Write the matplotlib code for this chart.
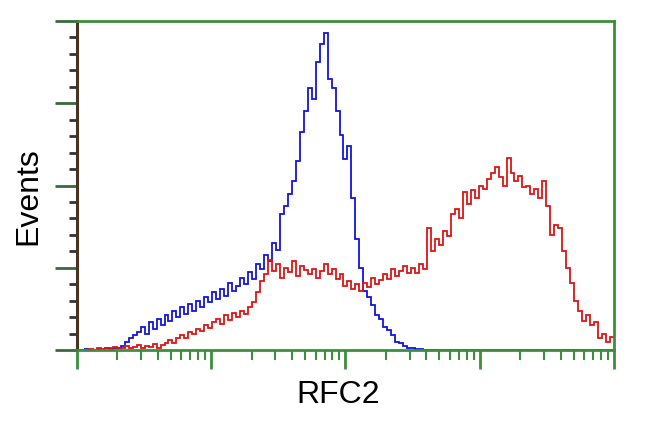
import numpy as np
import matplotlib
matplotlib.use("Agg")
import matplotlib.pyplot as plt
from matplotlib.ticker import MultipleLocator, LogLocator, NullFormatter

plt.rcParams['font.family'] = ['Liberation Sans', 'DejaVu Sans']

# 135 log-spaced channels from 10^0 to 10^4
n_bins = 135

# isotype control (blue)
control = [
    0, 0, 1, 0, 0, 1, 0, 2, 1, 2,
    3, 5, 10, 14, 18, 22,
    28, 20, 34, 26, 38, 30,
    42, 35, 48, 40, 52, 44,
    56, 48, 60, 52, 64, 58,
    70, 62, 74, 66, 82, 72,
    78, 88, 80, 95, 86, 104,
    98, 115, 108, 130, 122, 165,
    175, 190, 205, 230, 265, 290,
    318, 305, 350, 372, 385, 330,
    318, 290, 262, 232, 248, 185,
    135, 100, 72, 64, 55, 42,
    38, 28, 24, 18, 10, 8,
    5, 3, 2, 1, 1, 0,
    0, 0, 0, 0, 0, 0, 0, 0, 0, 0,
    0, 0, 0, 0, 0, 0, 0, 0, 0, 0,
    0, 0, 0, 0, 0, 0, 0, 0, 0, 0,
    0, 0, 0, 0, 0, 0, 0, 0, 0, 0,
    0, 0, 0, 0, 0, 0, 0,
]

# RFC2 stained sample (red)
stained = [
    0, 0, 0, 1, 0,
    2, 1, 3, 2, 4, 2,
    3, 5, 2, 4, 6, 3,
    5, 4, 7, 3, 6, 8,
    12, 9, 15, 18, 14, 22,
    20, 26, 23, 30, 27, 34,
    38, 32, 42, 36, 45, 40,
    48, 44, 52, 58, 70, 84,
    92, 110, 96, 104, 88, 100,
    95, 108, 90, 102, 97, 92,
    99, 88, 96, 104, 93, 98,
    86, 92, 78, 84, 74, 80,
    72, 82, 76, 88, 80, 85,
    92, 86, 98, 90, 96, 102,
    94, 100, 94, 105, 98, 148,
    120, 135, 128, 145, 138, 165,
    172, 160, 192, 178, 195, 185,
    200, 196, 208, 215, 222, 210,
    200, 234, 215, 205, 212, 198,
    200, 190, 196, 185, 205, 175,
    140, 152, 148, 120, 100, 82,
    60, 48, 35, 42, 30, 34,
    14, 20, 10, 16,
]

edges = np.logspace(0, 4, n_bins + 1)

fig = plt.figure(figsize=(6.5, 4.32), dpi=100)
ax = fig.add_axes([0.1185, 0.1898, 0.826, 0.7616])

ax.stairs(control, edges, color="#1414e0", lw=1.3, baseline=None)
ax.stairs(stained, edges, color="#e01414", lw=1.3, baseline=None)

ax.set_xscale("log")
ax.set_xlim(1, 1e4)
ax.set_ylim(0, 400)

green = "#3c8f3c"
for side in ["top", "right", "bottom"]:
    ax.spines[side].set_color(green)
    ax.spines[side].set_linewidth(2)
ax.spines["left"].set_color("#4a3320")
ax.spines["left"].set_linewidth(2.2)

ax.yaxis.set_major_locator(MultipleLocator(100))
ax.yaxis.set_minor_locator(MultipleLocator(20))
ax.xaxis.set_major_locator(LogLocator(base=10, numticks=10))
ax.xaxis.set_minor_locator(LogLocator(base=10, subs=np.arange(2, 10), numticks=20))
ax.xaxis.set_major_formatter(NullFormatter())
ax.xaxis.set_minor_formatter(NullFormatter())
ax.yaxis.set_major_formatter(NullFormatter())

ax.tick_params(axis="y", which="major", direction="out", length=16, width=2, color="#3a6a3a")
ax.tick_params(axis="y", which="minor", direction="out", length=6, width=2, color="#333333")
ax.tick_params(axis="x", which="major", direction="out", length=14, width=2, color=green)
ax.tick_params(axis="x", which="minor", direction="out", length=7, width=1.5, color=green)

fig.text(0.043, 0.547, "Events", rotation=90, fontsize=23, ha="center", va="center")
fig.text(0.52, 0.086, "RFC2", fontsize=23, ha="center", va="center")

fig.savefig("out.png", dpi=100)
